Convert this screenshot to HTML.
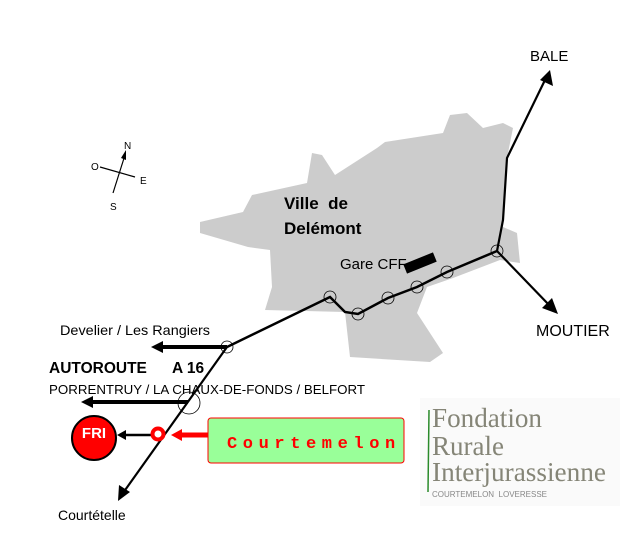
<!DOCTYPE html>
<html><head><meta charset="utf-8"><style>
body{margin:0;background:#fff;width:633px;height:555px;overflow:hidden;font-family:"Liberation Sans",sans-serif}
text{white-space:pre}
</style></head><body>
<svg width="633" height="555" viewBox="0 0 633 555" xmlns="http://www.w3.org/2000/svg" style="position:absolute;left:0;top:0" xml:space="preserve">
<polygon fill="#cccccc" points="200,222 243,212 252,195 307,183 312,153 322,155 335,175 377,148 385,142 443,133 450,115 467,113 483,128 503,123 513,128 507,158 503,227 517,233 520,263 500,260 453,278 427,287 417,313 443,353 430,362 350,357 345,312 265,310 272,287 270,250 248,247 200,233"/>
<g fill="none" stroke="#000" stroke-width="2.5">
<polyline points="227,347 330,297 345,312 358,314 388,298 417,287 447,272 497,251"/>
<polyline points="497,251 503,220 507,158 545,80" stroke-width="2.2"/>
<line x1="497" y1="251" x2="551" y2="307" stroke-width="2.2"/>
<line x1="227" y1="347" x2="123" y2="493" stroke-width="2.2"/>
<line x1="227" y1="347" x2="160" y2="347" stroke-width="4"/>
<line x1="188" y1="402" x2="90" y2="402" stroke-width="4"/>
<line x1="158" y1="435" x2="124" y2="435" stroke-width="2.5"/>
</g>
<g fill="#000">
<polygon points="550,70 553,86 540,80"/>
<polygon points="558,314 542,308 552,298"/>
<polygon points="118,501 119,485 130,492"/>
<polygon points="151,347 163,341 163,353"/>
<polygon points="81,402 93,396 93,408"/>
<polygon points="117,435 126,430 126,440"/>
</g>
<g fill="none" stroke="#000" stroke-width="0.8">
<circle cx="227" cy="347" r="6"/><circle cx="330" cy="297" r="6"/><circle cx="358" cy="314" r="6"/>
<circle cx="388" cy="298" r="6"/><circle cx="417" cy="287" r="6"/><circle cx="447" cy="272" r="6"/>
<circle cx="497" cy="251" r="6"/><circle cx="189" cy="403" r="11"/>
</g>
<rect x="404" y="258" width="32" height="10" fill="#000" transform="rotate(-22 420 263)"/>
<circle cx="158" cy="434" r="5.5" fill="#fff" stroke="#f00" stroke-width="4"/>
<line x1="210" y1="435" x2="180" y2="435" stroke="#f00" stroke-width="5"/>
<polygon points="171,435 182,429 182,441" fill="#f00"/>
<circle cx="94" cy="438" r="22" fill="#f00" stroke="#000" stroke-width="2"/>
<text x="94" y="438" font-size="15" font-weight="bold" fill="#fff" text-anchor="middle">FRI</text>
<rect x="208" y="418" width="196" height="45" rx="3" fill="#99ff99" stroke="#f00" stroke-width="1"/>
<text x="227" y="448" font-size="17" font-weight="bold" fill="#f00" letter-spacing="5.6" font-family="Liberation Mono">Courtemelon</text>
<rect x="420" y="398" width="200" height="108" fill="#fafafa"/>
<line x1="429" y1="410" x2="428" y2="492" stroke="#2a8a2a" stroke-width="1.5"/>
<g font-family="Liberation Serif" fill="#858577" font-size="27">
<text x="432" y="427" textLength="110" lengthAdjust="spacingAndGlyphs">Fondation</text><text x="432" y="455">Rurale</text><text x="432" y="481" textLength="174" lengthAdjust="spacingAndGlyphs">Interjurassienne</text>
</g>
<text x="432" y="497" font-size="8" fill="#888">COURTEMELON  LOVERESSE</text>
<g stroke="#000" stroke-width="1.2"><line x1="113" y1="193" x2="125" y2="155"/><line x1="100" y1="167" x2="135" y2="177"/></g>
<polygon points="126,150 126,160 121,158" fill="#000"/>
<g font-size="10" fill="#000"><text x="124" y="149">N</text><text x="91" y="170">O</text><text x="140" y="184">E</text><text x="110" y="210">S</text></g>
<text x="530" y="61" font-size="15">BALE</text>
<text x="536" y="336" font-size="16">MOUTIER</text>
<text x="284" y="209" font-size="17" font-weight="bold">Ville  de</text>
<text x="284" y="234" font-size="17" font-weight="bold">Delémont</text>
<text x="340" y="269" font-size="15">Gare CFF</text>
<text x="60" y="335" font-size="14" textLength="150" lengthAdjust="spacingAndGlyphs">Develier / Les Rangiers</text>
<text x="49" y="373" font-size="15.5" font-weight="bold">AUTOROUTE</text>
<text x="172" y="373" font-size="15.5" font-weight="bold">A 16</text>
<text x="49" y="394" font-size="13" textLength="316" lengthAdjust="spacingAndGlyphs">PORRENTRUY / LA CHAUX-DE-FONDS / BELFORT</text>
<text x="58" y="520" font-size="14">Courtételle</text>
</svg>
</body></html>
